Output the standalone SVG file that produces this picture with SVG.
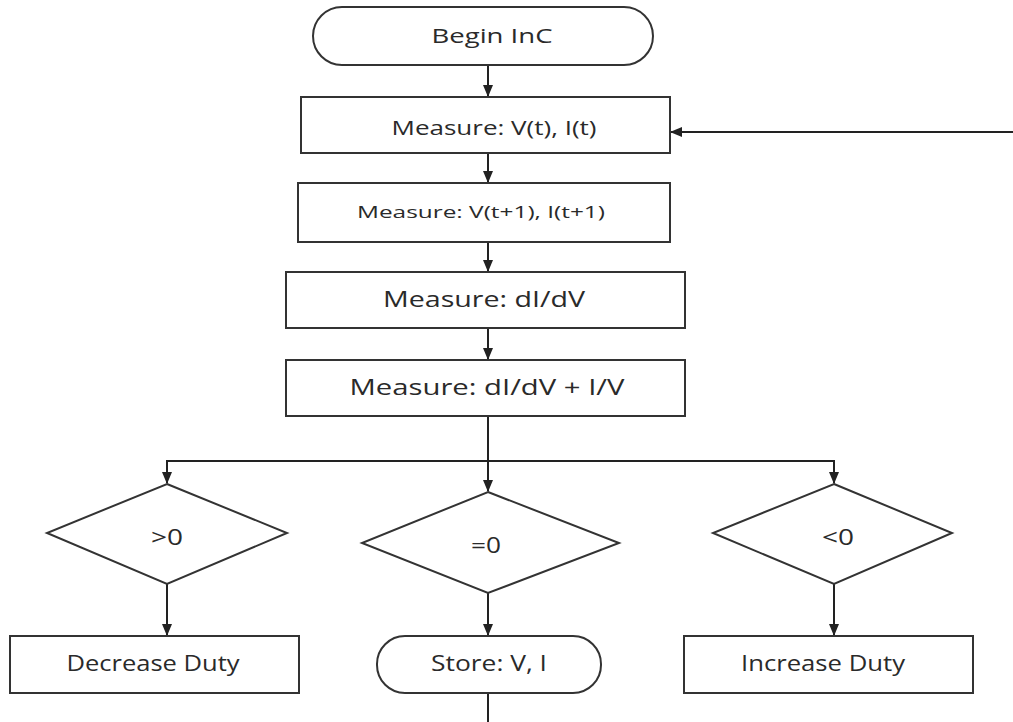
<svg xmlns="http://www.w3.org/2000/svg" width="1013" height="722" viewBox="0 0 1013 722">
<defs>
<marker id="ah" markerWidth="12" markerHeight="10" refX="11" refY="5" orient="auto" markerUnits="userSpaceOnUse">
<path d="M0,0 L12,5 L0,10 Z" fill="#222"/>
</marker>
<style>
.s{fill:#fff;stroke:#333;stroke-width:2}
.c{fill:none;stroke:#222;stroke-width:2}
.t{font-family:"Open Sans","Liberation Sans",sans-serif;fill:#2a2a2a;text-anchor:middle}
</style>
</defs>
<rect width="1013" height="722" fill="#fff"/>
<g id="connectors">
<line class="c" x1="488" y1="65" x2="488" y2="96" marker-end="url(#ah)"/>
<line class="c" x1="1013" y1="132" x2="671" y2="132" marker-end="url(#ah)"/>
<line class="c" x1="488" y1="153" x2="488" y2="182" marker-end="url(#ah)"/>
<line class="c" x1="488" y1="242" x2="488" y2="271" marker-end="url(#ah)"/>
<line class="c" x1="488" y1="328" x2="488" y2="359" marker-end="url(#ah)"/>
<line class="c" x1="488" y1="416" x2="488" y2="491" marker-end="url(#ah)"/>
<polyline class="c" points="167,483 167,461 834,461 834,483" />
<line class="c" x1="167" y1="470" x2="167" y2="483" marker-end="url(#ah)"/>
<line class="c" x1="834" y1="470" x2="834" y2="483" marker-end="url(#ah)"/>
<line class="c" x1="167" y1="584" x2="167" y2="635" marker-end="url(#ah)"/>
<line class="c" x1="488" y1="593" x2="488" y2="635" marker-end="url(#ah)"/>
<line class="c" x1="834" y1="584" x2="834" y2="635" marker-end="url(#ah)"/>
<line class="c" x1="488" y1="693" x2="488" y2="722"/>
</g>
<g id="begin">
<rect class="s" x="313" y="7" width="340" height="58" rx="29" ry="29"/>
<text class="t" x="492" y="43" font-size="20" textLength="121" lengthAdjust="spacingAndGlyphs">Begin InC</text>
</g>
<g id="measure1">
<rect class="s" x="301" y="97" width="369" height="56"/>
<text class="t" x="494" y="135" font-size="20" textLength="205" lengthAdjust="spacingAndGlyphs">Measure: V(t), I(t)</text>
</g>
<g id="measure2">
<rect class="s" x="298" y="183" width="372" height="59"/>
<text class="t" x="481" y="218" font-size="17" textLength="248" lengthAdjust="spacingAndGlyphs">Measure: V(t+1), I(t+1)</text>
</g>
<g id="measure3">
<rect class="s" x="286" y="272" width="399" height="56"/>
<text class="t" x="484" y="307" font-size="22" textLength="202" lengthAdjust="spacingAndGlyphs">Measure: dI/dV</text>
</g>
<g id="measure4">
<rect class="s" x="286" y="360" width="399" height="56"/>
<text class="t" x="487" y="395" font-size="22" textLength="275" lengthAdjust="spacingAndGlyphs">Measure: dI/dV + I/V</text>
</g>
<g id="gt0">
<polygon class="s" points="167,484 287,533 167,584 47,533"/>
<text class="t" x="167" y="545" font-size="21" textLength="32" lengthAdjust="spacingAndGlyphs">&gt;0</text>
</g>
<g id="eq0">
<polygon class="s" points="488,492 619,543 488,593 362,543"/>
<text class="t" x="486" y="553" font-size="21" textLength="30" lengthAdjust="spacingAndGlyphs">=0</text>
</g>
<g id="lt0">
<polygon class="s" points="834,484 952,533 834,584 713,533"/>
<text class="t" x="838" y="545" font-size="21" textLength="32" lengthAdjust="spacingAndGlyphs">&lt;0</text>
</g>
<g id="decrease">
<rect class="s" x="10" y="636" width="289" height="57"/>
<text class="t" x="153" y="671" font-size="22" textLength="173" lengthAdjust="spacingAndGlyphs">Decrease Duty</text>
</g>
<g id="store">
<rect class="s" x="377" y="636" width="224" height="57" rx="28" ry="28"/>
<text class="t" x="489" y="671" font-size="22" textLength="116" lengthAdjust="spacingAndGlyphs">Store: V, I</text>
</g>
<g id="increase">
<rect class="s" x="684" y="636" width="289" height="57"/>
<text class="t" x="823" y="671" font-size="22" textLength="164" lengthAdjust="spacingAndGlyphs">Increase Duty</text>
</g>
</svg>
